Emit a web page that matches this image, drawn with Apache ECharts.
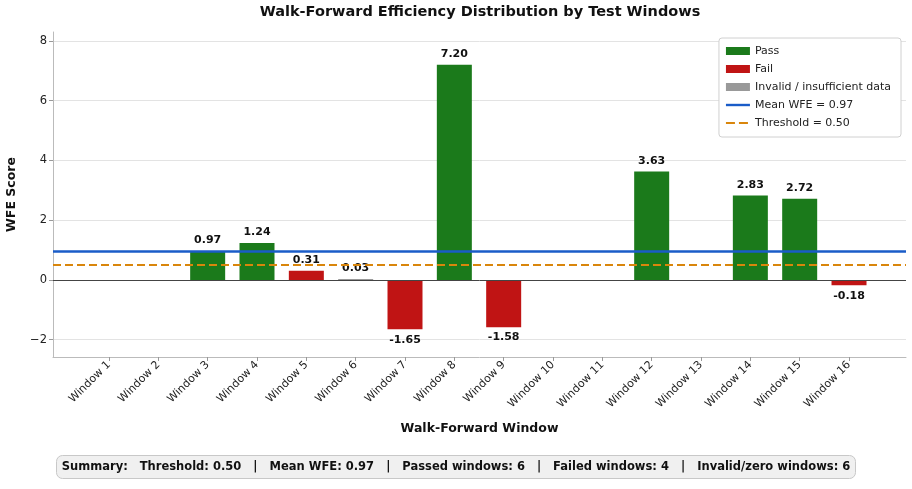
<!DOCTYPE html>
<html>
<head>
<meta charset="utf-8">
<script src="https://cdn.jsdelivr.net/npm/echarts@6/dist/echarts.min.js"></script>
<style>
  html, body { margin: 0; padding: 0; background: #fff; }
  #chart { width: 912px; height: 489px; }
</style>
</head>
<body>
<div id="chart"></div>
<script>
// chart data
const windows = ['Window 1', 'Window 2', 'Window 3', 'Window 4', 'Window 5', 'Window 6', 'Window 7', 'Window 8',
  'Window 9', 'Window 10', 'Window 11', 'Window 12', 'Window 13', 'Window 14', 'Window 15', 'Window 16'];
const wfeValues = [0, 0, 0.97, 1.24, 0.31, 0.03, -1.65, 7.20, -1.58, 0, 0, 3.63, 0, 2.83, 2.72, -0.18];
const status = ['invalid', 'invalid', 'pass', 'pass', 'fail', 'invalid', 'fail', 'pass',
  'fail', 'invalid', 'invalid', 'pass', 'invalid', 'pass', 'pass', 'fail'];
const yTicks = [-2, 0, 2, 4, 6, 8];
const threshold = 0.50;
const meanWfe = 0.97;

const FONT = 'DejaVu Sans';
const colors = { pass: '#1b7a1b', fail: '#c01414', invalid: '#999999', mean: '#1a5cc8', thr: '#d9860c' };

const barData = (kind) => wfeValues
  .map((v, i) => ({ v, i }))
  .filter(d => status[d.i] === kind)
  .map(d => ({
    value: [d.i + 1, d.v],
    label: {
      show: d.v !== 0,
      position: d.v < 0 ? 'bottom' : 'top',
      distance: 5
    }
  }));

const barSeries = (name, kind) => ({
  name: name,
  type: 'bar',
  barWidth: 35,
  barGap: '-100%',
  z: 2,
  itemStyle: { color: colors[kind] },
  label: {
    fontFamily: FONT, fontWeight: 'bold', fontSize: 11, color: '#111',
    formatter: p => p.value[1].toFixed(2)
  },
  data: barData(kind)
});

const nPass = status.filter(s => s === 'pass').length;
const nFail = status.filter(s => s === 'fail').length;
const nInvalid = status.filter(s => s === 'invalid').length;
const summary = 'Summary:   Threshold: ' + threshold.toFixed(2) + '   |   Mean WFE: ' + meanWfe.toFixed(2) +
  '   |   Passed windows: ' + nPass + '   |   Failed windows: ' + nFail +
  '   |   Invalid/zero windows: ' + nInvalid;

// legend icons for the two reference lines
const solidIcon = 'path://M0,0L0,0M24,8L24,8M0,2.8H24V5.2H0Z';
const dashIcon = 'path://M0,0L0,0M24,8L24,8M0,2.9H9V5.1H0ZM13,2.9H22V5.1H13Z';

const chart = echarts.init(document.getElementById('chart'), null, { renderer: 'canvas' });

chart.setOption({
  animation: false,
  backgroundColor: '#fff',
  textStyle: { fontFamily: FONT },
  title: [
    {
      text: 'Walk-Forward Efficiency Distribution by Test Windows',
      left: 480, top: 5, padding: 0,
      textAlign: 'center',
      textStyle: { fontFamily: FONT, fontWeight: 'bold', fontSize: 14.5, color: '#111' }
    },
    {
      text: summary,
      left: 'center', top: 455,
      padding: [6, 6, 6, 6],
      backgroundColor: '#f0f0f0',
      borderColor: '#c8c8c8',
      borderWidth: 1,
      borderRadius: 6,
      textStyle: { fontFamily: FONT, fontWeight: 'bold', fontSize: 11.5, color: '#111' }
    }
  ],
  legend: {
    orient: 'vertical',
    right: 11, top: 38,
    padding: [6, 10, 7, 7],
    itemGap: 4,
    itemWidth: 24, itemHeight: 8,
    backgroundColor: '#fff',
    borderColor: '#d0d0d0', borderWidth: 1, borderRadius: 3,
    textStyle: { fontFamily: FONT, fontSize: 11, color: '#222', lineHeight: 14 },
    data: [
      { name: 'Pass', icon: 'rect' },
      { name: 'Fail', icon: 'rect' },
      { name: 'Invalid / insufficient data', icon: 'rect' },
      { name: 'Mean WFE = 0.97', icon: solidIcon, itemStyle: { color: colors.mean, borderWidth: 0 } },
      { name: 'Threshold = 0.50', icon: dashIcon, itemStyle: { color: colors.thr, borderWidth: 0 } }
    ]
  },
  grid: { left: 53, right: 6, top: 32, bottom: 132, containLabel: false, outerBoundsMode: 'none' },
  xAxis: {
    type: 'value',
    min: -0.135, max: 17.155,
    name: 'Walk-Forward Window',
    nameLocation: 'middle',
    nameGap: 65,
    nameTextStyle: { fontFamily: FONT, fontWeight: 'bold', fontSize: 12.5, color: '#111' },
    axisLine: { show: true, onZero: false, lineStyle: { color: '#bbb', width: 1 } },
    axisTick: { show: true, customValues: windows.map((w, i) => i + 1), length: 4, lineStyle: { color: '#999' } },
    axisLabel: {
      customValues: windows.map((w, i) => i + 1),
      formatter: v => windows[Math.round(v) - 1] || '',
      rotate: 45, margin: 6,
      fontFamily: FONT, fontSize: 11, color: '#222'
    },
    splitLine: { show: false }
  },
  yAxis: {
    type: 'value',
    min: -2.58, max: 8.3,
    name: 'WFE Score',
    nameLocation: 'middle',
    nameGap: 35,
    nameTextStyle: { fontFamily: FONT, fontWeight: 'bold', fontSize: 12.5, color: '#111' },
    axisLine: { show: true, onZero: false, lineStyle: { color: '#bbb', width: 1 } },
    axisTick: { show: true, customValues: yTicks, length: 4, lineStyle: { color: '#999' } },
    axisLabel: {
      customValues: yTicks,
      formatter: v => (v < 0 ? '\u2212' + Math.abs(v) : String(v)),
      margin: 6,
      fontFamily: FONT, fontSize: 11.5, color: '#222'
    },
    splitLine: { show: false }
  },
  series: [
    {
      name: 'gridlines',
      type: 'line',
      data: [],
      z: 0,
      silent: true,
      markLine: {
        silent: true, symbol: 'none', label: { show: false }, z: 0,
        lineStyle: { color: '#e3e3e3', width: 1, type: 'solid' },
        data: yTicks.map(t => ({ yAxis: t }))
      }
    },
    barSeries('Pass', 'pass'),
    barSeries('Fail', 'fail'),
    barSeries('Invalid / insufficient data', 'invalid'),
    {
      name: 'zero',
      type: 'line',
      data: [],
      z: 3,
      silent: true,
      markLine: {
        silent: true, symbol: 'none', label: { show: false }, z: 4,
        lineStyle: { color: '#444', width: 1, type: 'solid' },
        data: [{ yAxis: 0 }]
      }
    },
    {
      name: 'Mean WFE = 0.97',
      type: 'line',
      data: [],
      symbol: 'none',
      z: 4,
      lineStyle: { color: colors.mean, width: 2.5 },
      itemStyle: { color: colors.mean },
      markLine: {
        silent: true, symbol: 'none', label: { show: false }, z: 5,
        lineStyle: { color: colors.mean, width: 2.5, type: 'solid' },
        data: [{ yAxis: meanWfe }]
      }
    },
    {
      name: 'Threshold = 0.50',
      type: 'line',
      data: [],
      symbol: 'none',
      z: 4,
      lineStyle: { color: colors.thr, width: 2.2, type: [8, 4] },
      itemStyle: { color: colors.thr },
      markLine: {
        silent: true, symbol: 'none', label: { show: false }, z: 5,
        lineStyle: { color: colors.thr, width: 2.2, type: [8, 4] },
        data: [{ yAxis: threshold }]
      }
    }
  ]
});
</script>
</body>
</html>
